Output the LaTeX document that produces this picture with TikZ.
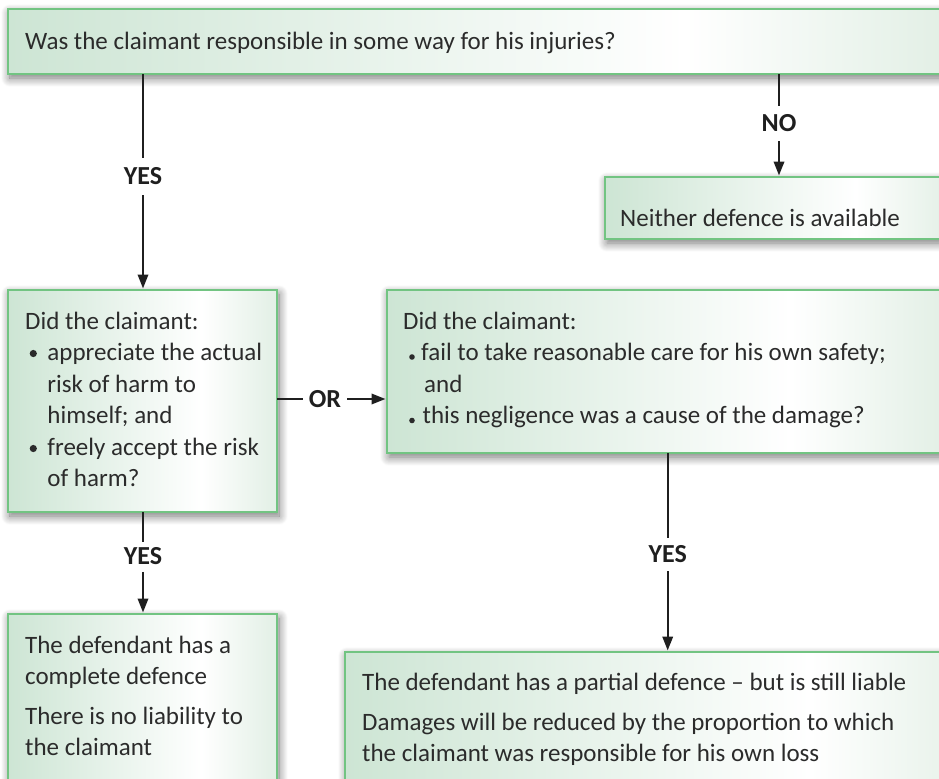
\documentclass[tikz,border=0pt]{standalone}
\usepackage{fontspec}
\setmainfont{Carlito}
\usetikzlibrary{arrows.meta,shadows.blur}

\definecolor{boxline}{HTML}{72C482}
\definecolor{shadeL}{HTML}{CDE5D4}
\definecolor{shadeR}{HTML}{E2EFE5}
\definecolor{ink}{HTML}{2B2B2B}

% green-white-green fill used by every box (stops between 25bp and 75bp span the box)
\pgfdeclarehorizontalshading{boxshade}{100bp}{color(0bp)=(shadeL); color(25bp)=(shadeL); color(61bp)=(white); color(75bp)=(shadeR); color(100bp)=(shadeR)}

\newcommand\bodyfont{\fontsize{25bp}{31.5bp}\selectfont}
\newcommand\labelfont{\fontsize{26bp}{31.5bp}\selectfont\bfseries}
% stacked lines, baseline of the whole block = baseline of its first line
\newcommand\lines[1]{\vtop{\baselineskip=31.5bp\lineskiplimit=0pt #1}}

\begin{document}
\begin{tikzpicture}[x=1bp,y=-1bp,
  box/.style={anchor=north west, inner sep=0pt, outer sep=0pt,
    draw=boxline, line width=1.5bp, shade, shading=boxshade,
    blur shadow={shadow xshift=2bp, shadow yshift=-4bp,
      shadow blur radius=9bp, shadow blur steps=12, shadow opacity=55}},
  txt/.style={anchor=base west, inner sep=0pt, text=ink, font=\bodyfont},
  lbl/.style={inner xsep=6bp, inner ysep=0pt, text height=16bp, text depth=0bp,
    font=\labelfont, text=black!88},
  link/.style={line width=2bp, draw=black!88},
  arr/.style={link, -{Triangle[length=14bp,width=10.5bp]}, shorten >=1.5bp},
  dot/.style={fill=ink}]

\useasboundingbox (0,0) rectangle (939,779);
\clip (0,0) rectangle (939,779);

% boxes
\node[box, minimum width=940bp, minimum height=65bp]  (top)     at (8,9)    {};
\node[box, minimum width=348bp, minimum height=62bp]  (neither) at (605,177) {};
\node[box, minimum width=269bp, minimum height=222bp] (left)    at (8,290)  {};
\node[box, minimum width=561bp, minimum height=163bp] (mid)     at (387,290) {};
\node[box, minimum width=269bp, minimum height=200bp] (botL)    at (8,614)  {};
\node[box, minimum width=646bp, minimum height=160bp] (botR)    at (345,652) {};

% box texts
\node[txt] (topT) at (25,49.3) {Was the claimant responsible in some way for his injuries?};
\node[txt] (neitherT) at (620,226) {Neither defence is available};
\node[txt] (leftT) at (25,329) {\lines{%
  \hbox{Did the claimant:}
  \hbox{\hspace*{22.3bp}appreciate the actual}
  \hbox{\hspace*{22.3bp}risk of harm to}
  \hbox{\hspace*{22.3bp}himself; and}
  \hbox{\hspace*{22.3bp}freely accept the risk}
  \hbox{\hspace*{22.3bp}of harm?}}};
\node[txt] (midT) at (403,329) {\lines{%
  \hbox{Did the claimant:}
  \hbox{\hspace*{18bp}fail to take reasonable care for his own safety;}
  \hbox{\hspace*{21bp}and}
  \hbox{\hspace*{19.5bp}this negligence was a cause of the damage?}}};
\node[txt] (botLT) at (25,653) {\lines{%
  \hbox{The defendant has a}
  \hbox{complete defence}
  \vskip 8bp
  \hbox{There is no liability to}
  \hbox{the claimant}}};
\node[txt] (botRT) at (362,690.7) {\lines{%
  \hbox{The defendant has a partial defence -- but is still liable}
  \vskip 8bp
  \hbox{Damages will be reduced by the proportion to which}
  \hbox{the claimant was responsible for his own loss}}};

% bullets
\fill[dot] (33.3,353.5) circle (3.6bp);
\fill[dot] (33.3,448.5) circle (3.6bp);
\fill[dot] (412,357) circle (2.8bp);
\fill[dot] (412,420.5) circle (2.8bp);

% connector labels
\node[lbl, minimum height=37bp] (yesA) at (143,176.5) {YES};
\node[lbl, minimum height=35bp] (no)   at (779,123.5) {NO};
\node[lbl, minimum height=30bp] (or)   at (325,399)   {OR};
\node[lbl, minimum height=30bp] (yesB) at (143,556.7) {YES};
\node[lbl, minimum height=33bp] (yesC) at (667.7,554.7) {YES};

% connectors
\draw[link] (top.south -| yesA) -- (yesA);
\draw[arr]  (yesA) -- (yesA |- left.north);
\draw[link] (top.south -| no) -- (no);
\draw[arr]  (no) -- (no |- neither.north);
\draw[link] (left.east |- or) -- (or);
\draw[arr]  (or) -- (or -| mid.west);
\draw[link] (left.south -| yesB) -- (yesB);
\draw[arr]  (yesB) -- (yesB |- botL.north);
\draw[link] (mid.south -| yesC) -- (yesC);
\draw[arr]  (yesC) -- (yesC |- botR.north);
\end{tikzpicture}
\end{document}
